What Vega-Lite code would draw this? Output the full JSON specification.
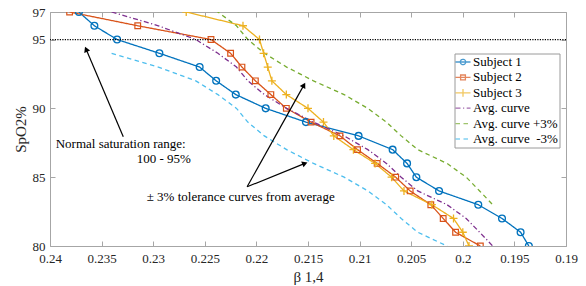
{
  "$schema": "https://vega.github.io/schema/vega-lite/v6.json",
  "width": 516,
  "height": 234,
  "autosize": {"type": "none"},
  "padding": {"left": 50, "top": 12, "right": 20, "bottom": 40},
  "background": "white",
  "config": {
    "view": {"stroke": null},
    "axis": {"grid": false, "domainColor": "#a6a6a6", "tickColor": "#a6a6a6", "labelFont": "Liberation Serif, Times New Roman, serif", "labelFontSize": 13, "labelColor": "#262626", "titleFont": "Liberation Serif, Times New Roman, serif", "titleFontSize": 15, "titleFontWeight": "normal", "titleColor": "#262626", "labelFlush": false, "labelOverlap": false},
    "legend": {"labelFont": "Liberation Serif, Times New Roman, serif", "labelFontSize": 13, "labelColor": "#000000", "symbolSize": 144, "symbolStrokeWidth": 1.3, "strokeColor": "#9a9a9a", "fillColor": "white", "padding": 1.5, "rowPadding": 1.4, "labelOffset": 3, "labelLimit": 200}
  },
  "datasets": {
    "curves": [
      {"series": "Subject 1", "spo2": 97, "beta": 0.2372}, {"series": "Subject 1", "spo2": 96, "beta": 0.2357}, {"series": "Subject 1", "spo2": 95, "beta": 0.2335}, {"series": "Subject 1", "spo2": 94, "beta": 0.2294}, {"series": "Subject 1", "spo2": 93, "beta": 0.2255}, {"series": "Subject 1", "spo2": 92, "beta": 0.2239}, {"series": "Subject 1", "spo2": 91, "beta": 0.2220}, {"series": "Subject 1", "spo2": 90, "beta": 0.2191}, {"series": "Subject 1", "spo2": 89, "beta": 0.2152}, {"series": "Subject 1", "spo2": 88, "beta": 0.2101}, {"series": "Subject 1", "spo2": 87, "beta": 0.2068}, {"series": "Subject 1", "spo2": 86, "beta": 0.2054}, {"series": "Subject 1", "spo2": 85, "beta": 0.2045}, {"series": "Subject 1", "spo2": 84, "beta": 0.2023}, {"series": "Subject 1", "spo2": 83, "beta": 0.1985}, {"series": "Subject 1", "spo2": 82, "beta": 0.1962}, {"series": "Subject 1", "spo2": 81, "beta": 0.1944}, {"series": "Subject 1", "spo2": 80, "beta": 0.1936},
      {"series": "Subject 2", "spo2": 97, "beta": 0.2381}, {"series": "Subject 2", "spo2": 96, "beta": 0.2315}, {"series": "Subject 2", "spo2": 95, "beta": 0.2244}, {"series": "Subject 2", "spo2": 94, "beta": 0.2225}, {"series": "Subject 2", "spo2": 93, "beta": 0.2214}, {"series": "Subject 2", "spo2": 92, "beta": 0.2201}, {"series": "Subject 2", "spo2": 91, "beta": 0.2186}, {"series": "Subject 2", "spo2": 90, "beta": 0.2171}, {"series": "Subject 2", "spo2": 89, "beta": 0.2147}, {"series": "Subject 2", "spo2": 88, "beta": 0.2119}, {"series": "Subject 2", "spo2": 87, "beta": 0.2102}, {"series": "Subject 2", "spo2": 86, "beta": 0.2083}, {"series": "Subject 2", "spo2": 85, "beta": 0.2065}, {"series": "Subject 2", "spo2": 84, "beta": 0.2051}, {"series": "Subject 2", "spo2": 83, "beta": 0.2031}, {"series": "Subject 2", "spo2": 82, "beta": 0.2019}, {"series": "Subject 2", "spo2": 81, "beta": 0.2007}, {"series": "Subject 2", "spo2": 80, "beta": 0.1983},
      {"series": "Subject 3", "spo2": 97, "beta": 0.2268}, {"series": "Subject 3", "spo2": 96, "beta": 0.2213}, {"series": "Subject 3", "spo2": 95, "beta": 0.2197}, {"series": "Subject 3", "spo2": 94, "beta": 0.2193}, {"series": "Subject 3", "spo2": 93, "beta": 0.2189}, {"series": "Subject 3", "spo2": 92, "beta": 0.2185}, {"series": "Subject 3", "spo2": 91, "beta": 0.2171}, {"series": "Subject 3", "spo2": 90, "beta": 0.2150}, {"series": "Subject 3", "spo2": 89, "beta": 0.2135}, {"series": "Subject 3", "spo2": 88, "beta": 0.2125}, {"series": "Subject 3", "spo2": 87, "beta": 0.2106}, {"series": "Subject 3", "spo2": 86, "beta": 0.2085}, {"series": "Subject 3", "spo2": 85, "beta": 0.2069}, {"series": "Subject 3", "spo2": 84, "beta": 0.2057}, {"series": "Subject 3", "spo2": 83, "beta": 0.2030}, {"series": "Subject 3", "spo2": 82, "beta": 0.2009}, {"series": "Subject 3", "spo2": 81, "beta": 0.2000}, {"series": "Subject 3", "spo2": 80, "beta": 0.1994},
      {"series": "Avg. curve", "spo2": 97, "beta": 0.23403}, {"series": "Avg. curve", "spo2": 96, "beta": 0.2295}, {"series": "Avg. curve", "spo2": 95, "beta": 0.22587}, {"series": "Avg. curve", "spo2": 94, "beta": 0.22373}, {"series": "Avg. curve", "spo2": 93, "beta": 0.22193}, {"series": "Avg. curve", "spo2": 92, "beta": 0.22083}, {"series": "Avg. curve", "spo2": 91, "beta": 0.21923}, {"series": "Avg. curve", "spo2": 90, "beta": 0.21707}, {"series": "Avg. curve", "spo2": 89, "beta": 0.21447}, {"series": "Avg. curve", "spo2": 88, "beta": 0.2115}, {"series": "Avg. curve", "spo2": 87, "beta": 0.2092}, {"series": "Avg. curve", "spo2": 86, "beta": 0.2074}, {"series": "Avg. curve", "spo2": 85, "beta": 0.20597}, {"series": "Avg. curve", "spo2": 84, "beta": 0.20437}, {"series": "Avg. curve", "spo2": 83, "beta": 0.20153}, {"series": "Avg. curve", "spo2": 82, "beta": 0.19967}, {"series": "Avg. curve", "spo2": 81, "beta": 0.19837}, {"series": "Avg. curve", "spo2": 80, "beta": 0.1971},
      {"series": "Avg. curve +3%", "spo2": 100, "beta": 0.23403}, {"series": "Avg. curve +3%", "spo2": 99, "beta": 0.2295}, {"series": "Avg. curve +3%", "spo2": 98, "beta": 0.22587}, {"series": "Avg. curve +3%", "spo2": 97, "beta": 0.22373}, {"series": "Avg. curve +3%", "spo2": 96, "beta": 0.22193}, {"series": "Avg. curve +3%", "spo2": 95, "beta": 0.22083}, {"series": "Avg. curve +3%", "spo2": 94, "beta": 0.21923}, {"series": "Avg. curve +3%", "spo2": 93, "beta": 0.21707}, {"series": "Avg. curve +3%", "spo2": 92, "beta": 0.21447}, {"series": "Avg. curve +3%", "spo2": 91, "beta": 0.2115}, {"series": "Avg. curve +3%", "spo2": 90, "beta": 0.2092}, {"series": "Avg. curve +3%", "spo2": 89, "beta": 0.2074}, {"series": "Avg. curve +3%", "spo2": 88, "beta": 0.20597}, {"series": "Avg. curve +3%", "spo2": 87, "beta": 0.20437}, {"series": "Avg. curve +3%", "spo2": 86, "beta": 0.20153}, {"series": "Avg. curve +3%", "spo2": 85, "beta": 0.19967}, {"series": "Avg. curve +3%", "spo2": 84, "beta": 0.19837}, {"series": "Avg. curve +3%", "spo2": 83, "beta": 0.1971},
      {"series": "Avg. curve \u00a0-3%", "spo2": 94, "beta": 0.23403}, {"series": "Avg. curve \u00a0-3%", "spo2": 93, "beta": 0.2295}, {"series": "Avg. curve \u00a0-3%", "spo2": 92, "beta": 0.22587}, {"series": "Avg. curve \u00a0-3%", "spo2": 91, "beta": 0.22373}, {"series": "Avg. curve \u00a0-3%", "spo2": 90, "beta": 0.22193}, {"series": "Avg. curve \u00a0-3%", "spo2": 89, "beta": 0.22083}, {"series": "Avg. curve \u00a0-3%", "spo2": 88, "beta": 0.21923}, {"series": "Avg. curve \u00a0-3%", "spo2": 87, "beta": 0.21707}, {"series": "Avg. curve \u00a0-3%", "spo2": 86, "beta": 0.21447}, {"series": "Avg. curve \u00a0-3%", "spo2": 85, "beta": 0.2115}, {"series": "Avg. curve \u00a0-3%", "spo2": 84, "beta": 0.2092}, {"series": "Avg. curve \u00a0-3%", "spo2": 83, "beta": 0.2074}, {"series": "Avg. curve \u00a0-3%", "spo2": 82, "beta": 0.20597}, {"series": "Avg. curve \u00a0-3%", "spo2": 81, "beta": 0.20437}, {"series": "Avg. curve \u00a0-3%", "spo2": 80, "beta": 0.20153}, {"series": "Avg. curve \u00a0-3%", "spo2": 79, "beta": 0.19967}, {"series": "Avg. curve \u00a0-3%", "spo2": 78, "beta": 0.19837}, {"series": "Avg. curve \u00a0-3%", "spo2": 77, "beta": 0.1971}
    ],
    "arrows": [
      {"id": "a", "b0": 0.2329, "s0": 87.94, "b1": 0.2365, "s1": 94.29},
      {"id": "b", "b0": 0.2209, "s0": 84.30, "b1": 0.2154, "s1": 91.69},
      {"id": "c", "b0": 0.2209, "s0": 84.30, "b1": 0.2153, "s1": 86.0}
    ],
    "notes": [
      {"text": "Normal saturation range:", "beta": 0.23945, "spo2": 87.12},
      {"text": "100 - 95%", "beta": 0.2316, "spo2": 86.0},
      {"text": "± 3% tolerance curves from average", "beta": 0.23063, "spo2": 83.26}
    ],
    "ref": [{"spo2": 95}]
  },
  "layer": [
    {
      "data": {"name": "curves"},
      "transform": [{"filter": "datum.spo2 > 1000"}],
      "mark": {"type": "point", "filled": false},
      "encoding": {
        "x": {"field": "beta", "type": "quantitative", "scale": {"domain": [0.19, 0.24], "reverse": true, "nice": false, "zero": false},
          "axis": {"orient": "top", "values": [0.24, 0.235, 0.23, 0.225, 0.22, 0.215, 0.21, 0.205, 0.2, 0.195, 0.19], "labels": false, "title": null, "tickSize": -5}},
        "y": {"field": "spo2", "type": "quantitative", "scale": {"domain": [80, 97], "nice": false, "zero": false},
          "axis": {"orient": "right", "values": [80, 85, 90, 95, 97], "labels": false, "title": null, "tickSize": -5}},
        "color": {"field": "series", "type": "nominal", "legend": {"title": null, "orient": "none", "legendX": 404.5, "legendY": 41.5}, "scale": {"domain": ["Subject 1", "Subject 2", "Subject 3", "Avg. curve", "Avg. curve +3%", "Avg. curve \u00a0-3%"], "range": ["#0072BD", "#D95319", "#EDB120", "#7E2F8E", "#77AC30", "#4DBEEE"]}},
        "strokeDash": {"field": "series", "type": "nominal", "legend": {"title": null, "orient": "none", "legendX": 404.5, "legendY": 41.5}, "scale": {"domain": ["Subject 1", "Subject 2", "Subject 3", "Avg. curve", "Avg. curve +3%", "Avg. curve \u00a0-3%"], "range": [[1, 0], [1, 0], [1, 0], [5, 2.5, 1.2, 2.5], [4.5, 3.5], [4.5, 3.5]]}},
        "shape": {"field": "series", "type": "nominal", "legend": {"title": null, "orient": "none", "legendX": 404.5, "legendY": 41.5}, "scale": {"domain": ["Subject 1", "Subject 2", "Subject 3", "Avg. curve", "Avg. curve +3%", "Avg. curve \u00a0-3%"], "range": ["M-1.25,0L1.25,0M0.45,0A0.45,0.45,0,1,1,-0.45,0A0.45,0.45,0,1,1,0.45,0", "M-1.25,0L1.25,0M-0.4,-0.4L0.4,-0.4L0.4,0.4L-0.4,0.4Z", "M-1.25,0L1.25,0M0,-0.65L0,0.65", "M-1.25,0L1.25,0", "M-1.25,0L1.25,0", "M-1.25,0L1.25,0"]}}
      }
    },
    {
      "data": {"name": "curves"},
      "mark": {"type": "line", "strokeWidth": 1.3, "clip": true},
      "encoding": {
        "x": {"field": "beta", "type": "quantitative", "scale": {"domain": [0.19, 0.24], "reverse": true, "nice": false, "zero": false},
          "axis": {"orient": "bottom", "values": [0.24, 0.235, 0.23, 0.225, 0.22, 0.215, 0.21, 0.205, 0.2, 0.195, 0.19], "format": "~g", "title": "β 1,4", "tickSize": -5, "labelPadding": 11, "titlePadding": 4}},
        "y": {"field": "spo2", "type": "quantitative", "scale": {"domain": [80, 97], "nice": false, "zero": false},
          "axis": {"orient": "left", "values": [80, 85, 90, 95, 97], "title": "SpO2%", "tickSize": -5, "labelPadding": 10, "titlePadding": 4}},
        "color": {"field": "series", "type": "nominal", "legend": {"title": null, "orient": "none", "legendX": 404.5, "legendY": 41.5}, "scale": {"domain": ["Subject 1", "Subject 2", "Subject 3", "Avg. curve", "Avg. curve +3%", "Avg. curve \u00a0-3%"], "range": ["#0072BD", "#D95319", "#EDB120", "#7E2F8E", "#77AC30", "#4DBEEE"]}},
        "strokeDash": {"field": "series", "type": "nominal", "legend": {"title": null, "orient": "none", "legendX": 404.5, "legendY": 41.5}, "scale": {"domain": ["Subject 1", "Subject 2", "Subject 3", "Avg. curve", "Avg. curve +3%", "Avg. curve \u00a0-3%"], "range": [[1, 0], [1, 0], [1, 0], [5, 2.5, 1.2, 2.5], [4.5, 3.5], [4.5, 3.5]]}},
        "order": {"field": "spo2", "type": "quantitative", "sort": "descending"}
      }
    },
    {
      "data": {"name": "curves"},
      "transform": [{"filter": "datum.series == 'Subject 1'"}],
      "mark": {"type": "point", "shape": "circle", "filled": false, "size": 46, "strokeWidth": 1.3, "opacity": 1, "clip": true},
      "encoding": {
        "x": {"field": "beta", "type": "quantitative", "scale": {"domain": [0.19, 0.24], "reverse": true, "nice": false, "zero": false}, "axis": null},
        "y": {"field": "spo2", "type": "quantitative", "scale": {"domain": [80, 97], "nice": false, "zero": false}, "axis": null},
        "color": {"field": "series", "type": "nominal", "legend": {"title": null, "orient": "none", "legendX": 404.5, "legendY": 41.5}, "scale": {"domain": ["Subject 1", "Subject 2", "Subject 3", "Avg. curve", "Avg. curve +3%", "Avg. curve \u00a0-3%"], "range": ["#0072BD", "#D95319", "#EDB120", "#7E2F8E", "#77AC30", "#4DBEEE"]}}
      }
    },
    {
      "data": {"name": "curves"},
      "transform": [{"filter": "datum.series == 'Subject 2'"}],
      "mark": {"type": "point", "shape": "square", "filled": false, "size": 32, "strokeWidth": 1.2, "opacity": 1, "clip": true},
      "encoding": {
        "x": {"field": "beta", "type": "quantitative", "scale": {"domain": [0.19, 0.24], "reverse": true, "nice": false, "zero": false}, "axis": null},
        "y": {"field": "spo2", "type": "quantitative", "scale": {"domain": [80, 97], "nice": false, "zero": false}, "axis": null},
        "color": {"field": "series", "type": "nominal", "legend": {"title": null, "orient": "none", "legendX": 404.5, "legendY": 41.5}, "scale": {"domain": ["Subject 1", "Subject 2", "Subject 3", "Avg. curve", "Avg. curve +3%", "Avg. curve \u00a0-3%"], "range": ["#0072BD", "#D95319", "#EDB120", "#7E2F8E", "#77AC30", "#4DBEEE"]}}
      }
    },
    {
      "data": {"name": "curves"},
      "transform": [{"filter": "datum.series == 'Subject 3'"}],
      "mark": {"type": "point", "shape": "M-1,0L1,0M0,-1L0,1", "filled": false, "size": 64, "strokeWidth": 1.3, "opacity": 1, "clip": true},
      "encoding": {
        "x": {"field": "beta", "type": "quantitative", "scale": {"domain": [0.19, 0.24], "reverse": true, "nice": false, "zero": false}, "axis": null},
        "y": {"field": "spo2", "type": "quantitative", "scale": {"domain": [80, 97], "nice": false, "zero": false}, "axis": null},
        "color": {"field": "series", "type": "nominal", "legend": {"title": null, "orient": "none", "legendX": 404.5, "legendY": 41.5}, "scale": {"domain": ["Subject 1", "Subject 2", "Subject 3", "Avg. curve", "Avg. curve +3%", "Avg. curve \u00a0-3%"], "range": ["#0072BD", "#D95319", "#EDB120", "#7E2F8E", "#77AC30", "#4DBEEE"]}}
      }
    },
    {
      "data": {"name": "ref"},
      "mark": {"type": "rule", "color": "#000000", "strokeWidth": 1.3, "strokeDash": [1.2, 1.3]},
      "encoding": {
        "y": {"field": "spo2", "type": "quantitative", "scale": {"domain": [80, 97], "nice": false, "zero": false}, "axis": null}
      }
    },
    {
      "data": {"name": "arrows"},
      "mark": {"type": "rule", "color": "#000000", "strokeWidth": 1.2},
      "encoding": {
        "x": {"field": "b0", "type": "quantitative", "scale": {"domain": [0.19, 0.24], "reverse": true, "nice": false, "zero": false}, "axis": null},
        "y": {"field": "s0", "type": "quantitative", "scale": {"domain": [80, 97], "nice": false, "zero": false}, "axis": null},
        "x2": {"field": "b1"},
        "y2": {"field": "s1"}
      }
    },
    {
      "data": {"name": "arrows"},
      "transform": [{"filter": "datum.id == 'a'"}],
      "mark": {"type": "point", "shape": "triangle-up", "filled": true, "color": "#000000", "size": 40, "angle": -23, "opacity": 1},
      "encoding": {
        "x": {"field": "b1", "type": "quantitative", "scale": {"domain": [0.19, 0.24], "reverse": true, "nice": false, "zero": false}, "axis": null},
        "y": {"field": "s1", "type": "quantitative", "scale": {"domain": [80, 97], "nice": false, "zero": false}, "axis": null}
      }
    },
    {
      "data": {"name": "arrows"},
      "transform": [{"filter": "datum.id == 'b'"}],
      "mark": {"type": "point", "shape": "triangle-up", "filled": true, "color": "#000000", "size": 40, "angle": 29, "opacity": 1},
      "encoding": {
        "x": {"field": "b1", "type": "quantitative", "scale": {"domain": [0.19, 0.24], "reverse": true, "nice": false, "zero": false}, "axis": null},
        "y": {"field": "s1", "type": "quantitative", "scale": {"domain": [80, 97], "nice": false, "zero": false}, "axis": null}
      }
    },
    {
      "data": {"name": "arrows"},
      "transform": [{"filter": "datum.id == 'c'"}],
      "mark": {"type": "point", "shape": "triangle-up", "filled": true, "color": "#000000", "size": 40, "angle": 68, "opacity": 1},
      "encoding": {
        "x": {"field": "b1", "type": "quantitative", "scale": {"domain": [0.19, 0.24], "reverse": true, "nice": false, "zero": false}, "axis": null},
        "y": {"field": "s1", "type": "quantitative", "scale": {"domain": [80, 97], "nice": false, "zero": false}, "axis": null}
      }
    },
    {
      "data": {"name": "notes"},
      "mark": {"type": "text", "align": "left", "baseline": "alphabetic", "font": "Liberation Serif, Times New Roman, serif", "fontSize": 13, "color": "#000000"},
      "encoding": {
        "x": {"field": "beta", "type": "quantitative", "scale": {"domain": [0.19, 0.24], "reverse": true, "nice": false, "zero": false}, "axis": null},
        "y": {"field": "spo2", "type": "quantitative", "scale": {"domain": [80, 97], "nice": false, "zero": false}, "axis": null},
        "text": {"field": "text"}
      }
    }
  ],
  "resolve": {"axis": {"x": "independent", "y": "independent"}}
}
